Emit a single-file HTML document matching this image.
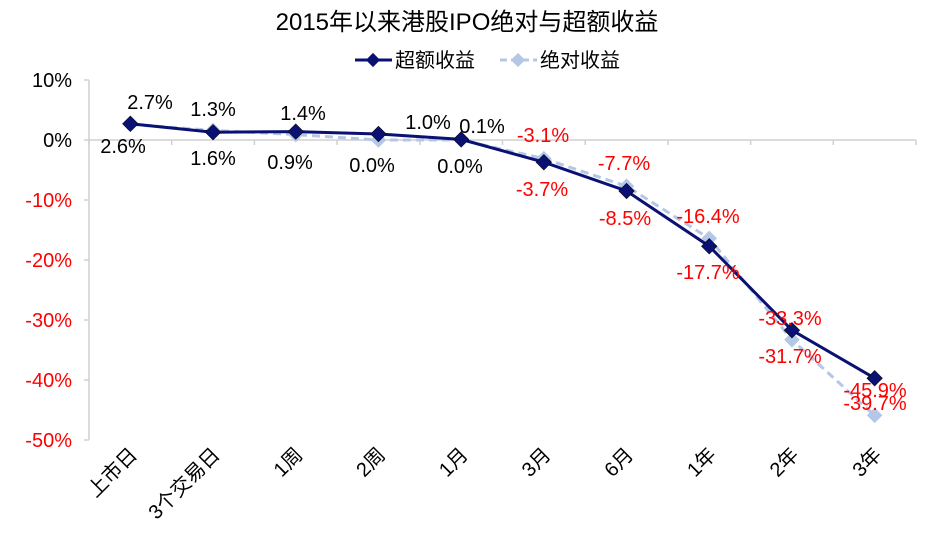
<!DOCTYPE html>
<html><head><meta charset="utf-8"><style>
body{margin:0;background:#fff}
svg{font-family:"Liberation Sans","Noto Sans CJK SC",sans-serif}
</style></head><body>
<svg id="c" width="934" height="536"></svg>
<script>
const categories=["上市日","3个交易日","1周","2周","1月","3月","6月","1年","2年","3年"];
const excessVals=[2.7,1.3,1.4,1.0,0.1,-3.7,-8.5,-17.7,-31.7,-39.7];
const absVals=[2.6,1.6,0.9,0.0,0.0,-3.1,-7.7,-16.4,-33.3,-45.9];
const upperLabels=[2.7,1.3,1.4,1.0,0.1,-3.1,-7.7,-16.4,-33.3,-45.9];
const lowerLabels=[2.6,1.6,0.9,0.0,0.0,-3.7,-8.5,-17.7,-31.7,-39.7];
const yTicks=[10,0,-10,-20,-30,-40,-50];
const upperPos=[[150,102],[213,109],[303,113],[428,122],[482,126],[543,135],[624,163],[708,216],[790,318],[875,390]];
const lowerPos=[[123,146],[213,158],[290,162],[372,165],[460,166],[542,189],[625,218],[708,272],[790,356],[875,403]];
const NS="http://www.w3.org/2000/svg",svg=document.getElementById('c');
const left=89,right=916,y0=140,pxPer=6;
const step=(right-left)/categories.length;
const X=i=>left+step*(i+0.5), Y=v=>y0-v*pxPer;
function el(t,a,p){const e=document.createElementNS(NS,t);for(const k in a)e.setAttribute(k,a[k]);(p||svg).appendChild(e);return e;}
let t=el('text',{x:467,y:30,'text-anchor':'middle','font-size':24});t.textContent="2015年以来港股IPO绝对与超额收益";

let lg=el('g',{});
el('line',{x1:355,y1:60,x2:392,y2:60,stroke:'#0a1172','stroke-width':3},lg);
el('rect',{x:368,y:55,width:10,height:10,fill:'#0a1172',transform:'rotate(45 373 60)'},lg);
t=el('text',{x:395,y:67,'font-size':20},lg);t.textContent="超额收益";
el('line',{x1:500,y1:60,x2:537,y2:60,stroke:'#b4c7e7','stroke-width':3,'stroke-dasharray':'7,4'},lg);
el('rect',{x:513,y:55,width:10,height:10,fill:'#b4c7e7',transform:'rotate(45 518 60)'},lg);
t=el('text',{x:540,y:67,'font-size':20},lg);t.textContent="绝对收益";
let ax=el('line',{x1:left,y1:Y(10),x2:left,y2:Y(-50),stroke:'#d0d0d0','stroke-width':1.5});

let zx=el('line',{x1:left,y1:y0,x2:right,y2:y0,stroke:'#d0d0d0','stroke-width':1.5});

for(let i=0;i<=categories.length;i++){el('line',{x1:left+step*i,y1:y0,x2:left+step*i,y2:y0+5,stroke:'#d0d0d0','stroke-width':1.5});}
yTicks.forEach(v=>{el('line',{x1:left-5,y1:Y(v),x2:left,y2:Y(v),stroke:'#d0d0d0','stroke-width':1.5});
 const tx=el('text',{x:left-17,y:Y(v)+7,'text-anchor':'end','font-size':20,fill:v<0?'#ff0000':'#000'});tx.textContent=v+'%';
 });
categories.forEach((c,i)=>{const tx=el('text',{x:X(i)+8,y:456,'text-anchor':'end','font-size':20,transform:`rotate(-45 ${X(i)+8} 456)`});tx.textContent=c;
 });
function series(vals,color,dash,name){
 const g=el('g',{});
 const a={points:vals.map((v,i)=>X(i)+','+Y(v)).join(' '),fill:'none',stroke:color,'stroke-width':3};
 if(dash)a['stroke-dasharray']=dash;el('polyline',a,g);
 vals.forEach((v,i)=>{const r=el('rect',{x:X(i)-5.5,y:Y(v)-5.5,width:11,height:11,fill:color,stroke:dash?'none':'#000','stroke-width':0.5,transform:`rotate(45 ${X(i)} ${Y(v)})`},g);
  });
}
series(absVals,'#b4c7e7','8,5','absolute-return-series');
series(excessVals,'#0a1172',null,'excess-return-series');
function labels(vals,pos){vals.forEach((v,i)=>{const tx=el('text',{x:pos[i][0],y:pos[i][1]+7,'text-anchor':'middle','font-size':20,fill:v<0?'#ff0000':'#000'});
 tx.textContent=v.toFixed(1)+'%';});}
labels(upperLabels,upperPos);labels(lowerLabels,lowerPos);
</script></body></html>
